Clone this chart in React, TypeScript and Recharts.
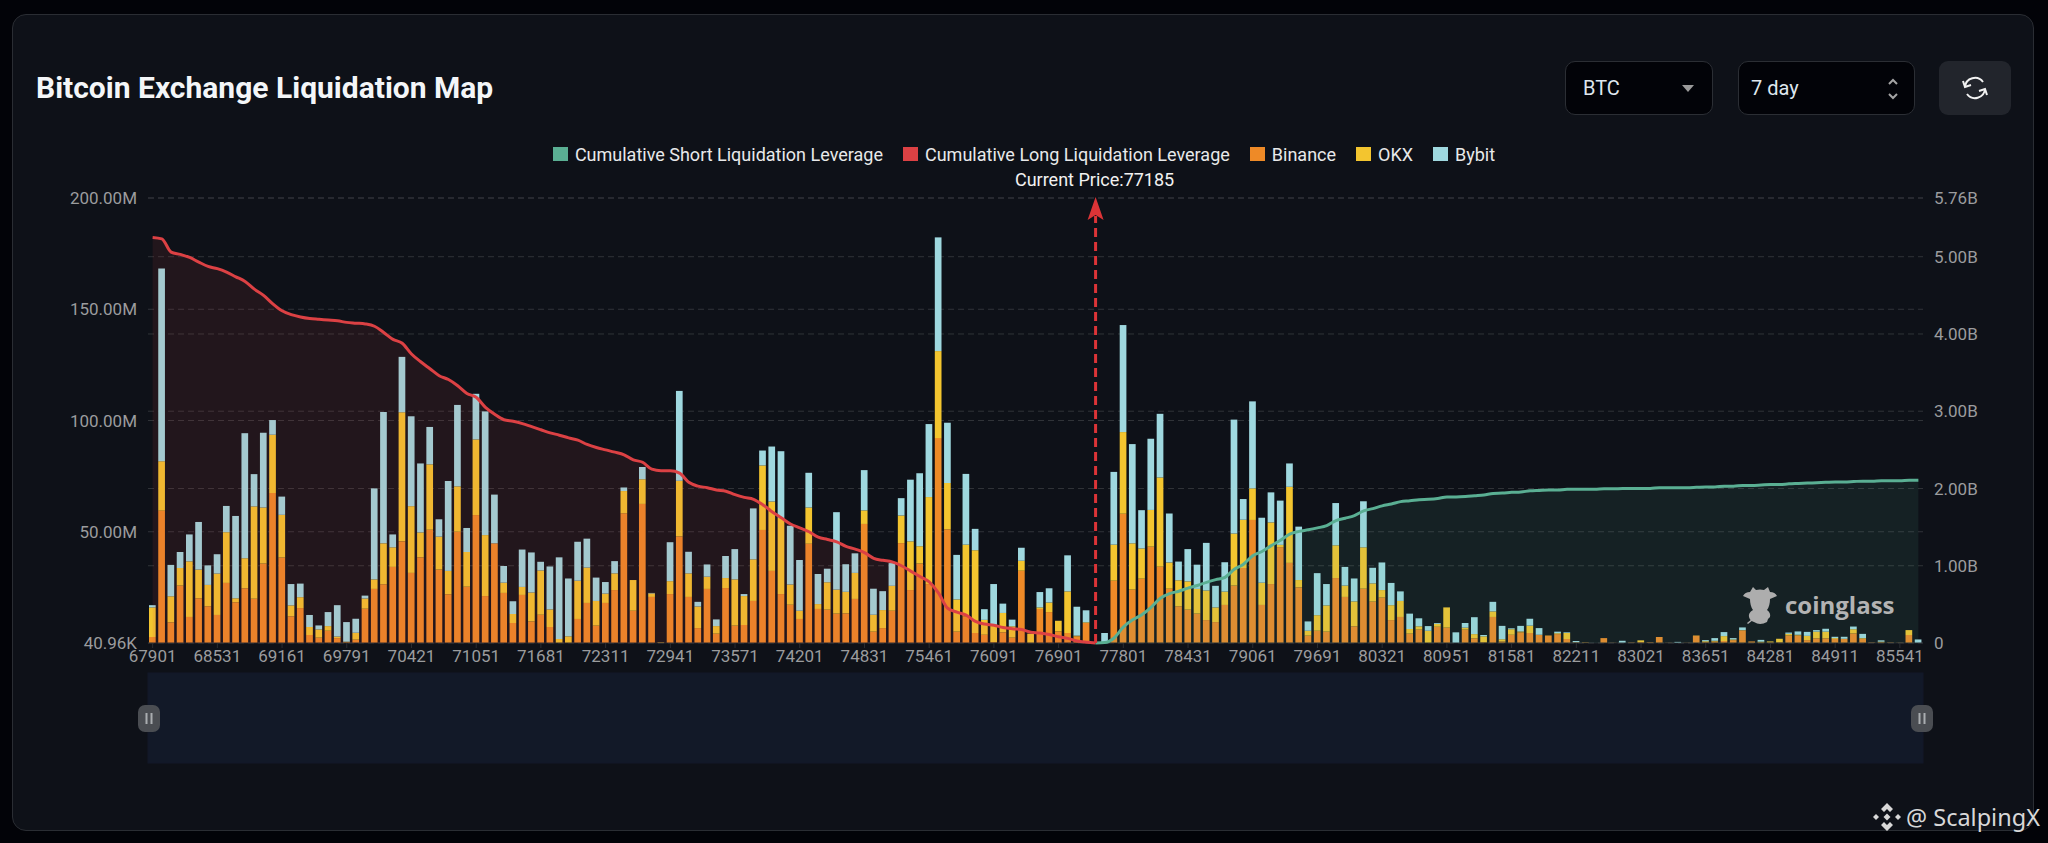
import {
  ComposedChart, Bar, Area, XAxis, YAxis, CartesianGrid, ReferenceLine, Legend, Brush,
} from 'recharts'

// one level per bar, the gaps in the price axis are in the source chart too
const priceLevels = [
  67901, 67991, 68081, 68171, 68261, 68351, 68441,
  68531, 68621, 68711, 68801, 68891, 68981, 69071,
  69161, 69251, 69341, 69431, 69521, 69611, 69701,
  69791, 69881, 69971, 70061, 70151, 70241, 70331,
  70421, 70511, 70601, 70691, 70781, 70871, 70961,
  71051, 71141, 71231, 71321, 71411, 71501, 71591,
  71681, 71771, 71861, 71951, 72041, 72131, 72221,
  72311, 72401, 72491, 72581, 72671, 72761, 72851,
  72941, 73031, 73121, 73211, 73301, 73391, 73481,
  73571, 73661, 73751, 73841, 73931, 74021, 74111,
  74201, 74291, 74381, 74471, 74561, 74651, 74741,
  74831, 74921, 75011, 75101, 75191, 75281, 75371,
  75461, 75551, 75641, 75731, 75821, 75911, 76001,
  76091, 76181, 76271, 76361, 76451, 76631, 76721,
  76901, 76991, 77081, 77171, 77185, 77261, 77441,
  77801, 77891, 77981, 78071, 78161, 78251, 78341,
  78431, 78521, 78611, 78701, 78791, 78881, 78971,
  79061, 79151, 79241, 79331, 79421, 79511, 79601,
  79691, 79781, 79871, 79961, 80051, 80141, 80231,
  80321, 80411, 80501, 80591, 80681, 80771, 80861,
  80951, 81041, 81131, 81221, 81311, 81401, 81491,
  81581, 81671, 81761, 81851, 81941, 82031, 82121,
  82211, 82301, 82391, 82481, 82661, 82751, 82931,
  83021, 83111, 83201, 83291, 83381, 83471, 83561,
  83651, 83741, 83831, 83921, 84011, 84101, 84191,
  84281, 84371, 84461, 84551, 84641, 84731, 84821,
  84911, 85001, 85091, 85181, 85271, 85361, 85451,
  85541, 85631, 85721,
]

const CURRENT_PRICE = 77185
const CURRENT_INDEX = 102

// millions of USD
const binance = [
  2.7, 59.5, 9.3, 25.8, 11.7, 20.1, 16.5, 12.6, 27, 18.3,
  24.6, 19.9, 35.7, 67.4, 38.4, 12, 15.7, 3.6, 2.4, 5.5,
  2.2, 0.3, 1.5, 15.4, 24.3, 26.4, 34.2, 45.7, 31.5, 38.5,
  50.9, 33, 21.9, 50, 25.3, 57.5, 21.1, 44.8, 22.5, 9,
  21.6, 9.7, 12.7, 7.2, 0, 0, 10.8, 18, 7.8, 18,
  23.8, 58.3, 14.5, 62.5, 20.7, 0, 22, 47.9, 20.7, 6.7,
  24.3, 4.2, 24.7, 7.8, 8.1, 18.9, 50.8, 32.4, 22, 17.2,
  10.8, 44.6, 15.3, 15, 13.2, 13.3, 19.8, 53.5, 5.1, 6.7,
  14.5, 44.9, 23.8, 35.7, 26.5, 92.1, 51.1, 5.1, 12, 4.5,
  3.7, 0.3, 4.8, 2.4, 32.5, 0, 15.3, 13.9, 5.2, 4.5,
  3, 9, 0, 0, 28, 58.1, 24, 28.9, 43.3, 34.3,
  24.4, 16.5, 15, 13.2, 10.3, 9.4, 17.1, 25.8, 33.7, 55.3,
  17.1, 26.5, 43.1, 36, 25, 3.3, 5.5, 5.1, 29.2, 20.7,
  7.5, 24.4, 18.6, 20.4, 10.3, 11.7, 4.2, 6, 0, 7.3,
  6.9, 0, 6, 2.1, 0.3, 11.7, 0.7, 3.7, 4.8, 4.5,
  3.7, 3.3, 4, 1.8, 0.3, 0.2, 0, 2.2, 0.1, 0,
  0.2, 0.4, 0.3, 2.7, 0.1, 0, 0.1, 3.3, 0.4, 0.7,
  0.9, 1.3, 5.7, 0.7, 0.2, 0.3, 0.3, 3.4, 3.4, 1.3,
  2.1, 2.1, 1.8, 1.8, 4.3, 1.9, 0.2, 0.3, 0.2, 0.1,
  3.6, 0,
]

const okx = [
  13.3, 22.2, 11.7, 7.9, 25, 12.9, 9.6, 18.6, 22.8, 1.8,
  13.5, 41.5, 25.2, 26.2, 19.2, 4.9, 4.9, 3.6, 3.7, 2.1,
  0.7, 0.3, 3.1, 4.6, 4.3, 18.4, 8.8, 58, 30, 11.2,
  29.4, 14.8, 10.5, 20.4, 15.6, 34, 27.4, 0, 4.6, 4,
  3.6, 13, 19.9, 7.9, 1.8, 3, 17.2, 15.9, 11.1, 4.2,
  7.5, 10, 13.8, 11.1, 1.6, 0.3, 5.8, 25, 10.6, 9.7,
  5.5, 3.4, 4.5, 20.8, 13, 18.7, 29, 31.2, 34.2, 9.1,
  3.7, 16.3, 2.2, 12.3, 10.8, 9.7, 11.7, 6.1, 7.6, 8.1,
  11.2, 12.4, 21.9, 7.8, 39.1, 39.1, 20.8, 14.5, 32.2, 37.2,
  6.7, 7.9, 8.7, 5.1, 4.5, 4.2, 0.7, 4.3, 4.8, 18.7,
  0.3, 0.3, 0, 0, 16.2, 36.7, 20.8, 13.6, 16.5, 40.1,
  11.8, 11.7, 12.7, 11.1, 13.3, 6.6, 6, 23.4, 21.7, 14.2,
  10, 27.7, 1, 34.2, 3.3, 2.2, 7, 11.8, 14.7, 5.1,
  11.2, 18.6, 8.2, 3.4, 6.7, 7.2, 2.1, 1.5, 5.5, 1.3,
  9.1, 0, 0.9, 1.9, 2.7, 2.5, 1, 2.5, 0.4, 3.3,
  0, 0.1, 0.4, 2.7, 0, 0.1, 0, 0, 0, 0,
  0, 0.8, 0, 0, 0, 0, 0, 0.1, 0.4, 0.3,
  2.2, 0.3, 0.1, 0, 0.4, 0.4, 1.6, 0.7, 0.3, 1.9,
  3, 3, 0.4, 0.1, 1.9, 0.3, 0, 0.3, 0, 0,
  2.2, 0,
]

const bybit = [
  1, 86.6, 14.1, 7.2, 12.1, 21.4, 8.8, 8.7, 11.8, 37,
  56.2, 14.5, 33.6, 6.6, 8.2, 9.6, 6.1, 5.4, 1.8, 6.3,
  14.1, 8.8, 6.3, 1.3, 40.9, 59, 5.8, 24.9, 40.4, 31,
  16.8, 7.8, 40.4, 36.6, 10.8, 20.5, 55.6, 21.9, 7.5, 5.8,
  16.8, 18, 3.9, 19.3, 36.7, 26, 17.5, 13, 10.5, 5.2,
  5.5, 1.6, 0, 5.5, 0.2, 0, 17.5, 40.4, 9.7, 2.1,
  5.5, 3, 9.9, 13.6, 0.9, 22.9, 6.7, 24.7, 30, 26.4,
  22.8, 15.6, 13.5, 6.1, 34.8, 12.4, 8.8, 18.1, 11.7, 8.5,
  10.2, 7.8, 27.7, 32.8, 32.8, 51.1, 27.1, 20, 31.8, 9.6,
  4.8, 18.3, 4.2, 3, 5.8, 0, 6.9, 6.4, 0, 16.2,
  13, 5.4, 0, 4.5, 32.7, 48.1, 44.6, 17.2, 32, 28.6,
  22, 8.4, 14.5, 10.9, 21.4, 9.7, 13.2, 51.2, 9.3, 39.1,
  29.2, 13.5, 19.9, 10.5, 24, 4.2, 18.9, 9.6, 19, 8.4,
  10.3, 20.7, 7, 12.4, 10, 4.3, 6.9, 3.6, 2.1, 0.4,
  0, 4.8, 2.1, 7.6, 0.6, 4.3, 6, 0.4, 2.5, 3.1,
  3, 0, 0.7, 0.3, 0.6, 0, 0, 0, 0, 1,
  0, 0, 0, 0, 0, 0.5, 0, 0, 0.5, 1.2,
  1.8, 0.6, 1.2, 0, 0.8, 0, 0, 0.6, 1.5, 1.8,
  0.7, 1.3, 0.6, 0.9, 1.2, 1.9, 0, 0.6, 0, 0,
  0, 1.6,
]

// billions of USD, from the lowest level up to the current price
const cumLong = [
  5.25, 5.23, 5.06, 5.03, 4.99, 4.93, 4.875, 4.845, 4.8, 4.74,
  4.68, 4.58, 4.5, 4.39, 4.3, 4.25, 4.22, 4.2, 4.19, 4.18,
  4.17, 4.15, 4.14, 4.13, 4.1, 4.02, 3.93, 3.88, 3.74, 3.64,
  3.55, 3.46, 3.41, 3.33, 3.23, 3.18, 3.05, 2.96, 2.89, 2.87,
  2.84, 2.8, 2.76, 2.72, 2.69, 2.655, 2.625, 2.57, 2.53, 2.5,
  2.47, 2.435, 2.37, 2.34, 2.25, 2.23, 2.23, 2.2, 2.08, 2.03,
  2.01, 1.98, 1.965, 1.92, 1.885, 1.86, 1.79, 1.7, 1.62, 1.54,
  1.49, 1.44, 1.37, 1.34, 1.31, 1.25, 1.215, 1.17, 1.095, 1.07,
  1.05, 1, 0.93, 0.86, 0.79, 0.65, 0.45, 0.4, 0.36, 0.28,
  0.245, 0.23, 0.2, 0.185, 0.175, 0.14, 0.13, 0.11, 0.08, 0.06,
  0.025, 0.01, 0,
]

// billions of USD, from the current price to the highest level
const cumShort = [
  0, 0.005, 0.065, 0.205, 0.3, 0.365, 0.46, 0.58, 0.64, 0.67,
  0.71, 0.745, 0.785, 0.82, 0.85, 0.955, 1.02, 1.13, 1.185, 1.26,
  1.33, 1.41, 1.445, 1.465, 1.49, 1.52, 1.585, 1.615, 1.65, 1.71,
  1.74, 1.775, 1.8, 1.83, 1.84, 1.855, 1.86, 1.87, 1.89, 1.89,
  1.895, 1.905, 1.915, 1.935, 1.94, 1.95, 1.955, 1.97, 1.975, 1.98,
  1.98, 1.99, 1.99, 1.99, 1.99, 1.995, 1.995, 2, 2, 2,
  2, 2.01, 2.01, 2.01, 2.01, 2.015, 2.02, 2.02, 2.03, 2.03,
  2.04, 2.04, 2.045, 2.05, 2.05, 2.06, 2.065, 2.07, 2.075, 2.08,
  2.085, 2.085, 2.09, 2.095, 2.095, 2.1, 2.1, 2.1, 2.105, 2.105,
]

const leftTicks = [0.04096, 50, 100, 150, 200]
const rightTicks = [0, 1, 2, 3, 4, 5, 5.76]

const COLORS = {
  short: '#5aaf93',
  long: '#dc4144',
  binance: '#ee8a27',
  okx: '#f3c52f',
  bybit: '#9fd8df',
}

const legendItems = [
  { label: 'Cumulative Short Liquidation Leverage', color: COLORS.short },
  { label: 'Cumulative Long Liquidation Leverage', color: COLORS.long },
  { label: 'Binance', color: COLORS.binance },
  { label: 'OKX', color: COLORS.okx },
  { label: 'Bybit', color: COLORS.bybit },
]

const chartData = priceLevels.map((price, i) => ({
  price,
  binance: binance[i],
  okx: okx[i],
  bybit: bybit[i],
  cumLong: i <= CURRENT_INDEX ? cumLong[i] : null,
  cumShort: i >= CURRENT_INDEX ? cumShort[i - CURRENT_INDEX] : null,
}))

const FONT = 'Roboto, sans-serif'
const AXIS_TICK = { fill: '#9b9c9e', fontSize: 17, fontFamily: FONT }
const BAR_WIDTH = 6.7
const AREA_Z = 500 // the areas sit over the bars and tint them

function LegendRow() {
  return (
    <div style={{ display: 'flex', justifyContent: 'center', alignItems: 'center', height: 24, gap: 20, fontFamily: FONT, fontSize: 18, color: '#e8e9ea' }}>
      {legendItems.map((item) => (
        <div key={item.label} style={{ display: 'flex', alignItems: 'center', gap: 7 }}>
          <span style={{ width: 15, height: 14, background: item.color, display: 'inline-block' }} />
          <span>{item.label}</span>
        </div>
      ))}
    </div>
  )
}

function CurrentPriceMark({ x1, y1, y2 }: any) {
  const x = x1
  const top = Math.min(y1, y2)
  const bottom = Math.max(y1, y2)
  return (
    <g>
      <line x1={x} x2={x} y1={bottom} y2={top + 18} stroke="#dc3437" strokeWidth={3} strokeDasharray="9 5" />
      <path d={`M${x} ${top - 1} L${x + 8} ${top + 22} L${x} ${top + 17} L${x - 8} ${top + 22} Z`} fill="#dc3437" />
      <text x={x - 1} y={top - 12} textAnchor="middle" fill="#f2f2f2" fontSize={18} fontFamily={FONT}>
        Current Price:{CURRENT_PRICE}
      </text>
    </g>
  )
}

function BrushHandle({ x, y, width, height }: any) {
  const cx = x + width / 2
  const cy = y + height / 2
  return (
    <g>
      <rect x={cx - 11} y={cy - 13} width={22} height={27} rx={7} fill="#4a4d52" />
      <rect x={cx - 3.5} y={cy - 5} width={2} height={11} fill="#a9adb0" />
      <rect x={cx + 1.5} y={cy - 5} width={2} height={11} fill="#a9adb0" />
    </g>
  )
}

function CoinglassMark() {
  return (
    <div style={{ position: 'absolute', left: 1742, top: 586, width: 160, height: 42, pointerEvents: 'none' }}>
      <svg width={36} height={40} viewBox="0 0 36 40" style={{ position: 'absolute', left: 0, top: 0 }}>
        <path
          d="M1 10 Q3 6 8 6 L11 1 L14 4 Q18 3 22 4 L26 1 L28 6 Q33 6 35 10 L28 13 Q28 20 25 24 Q29 27 28 31 Q25 33 25 36 Q18 40 12 36 Q8 35 7 31 Q6 27 11 24 Q8 20 8 13 Z"
          fill="#adadad"
        />
        <path d="M5 37 L10 33 L11 34 L6 38 Z" fill="#adadad" />
      </svg>
      <span style={{ position: 'absolute', left: 43, top: 1, fontFamily: '"Open Sans", sans-serif', fontWeight: 700, fontSize: 24, color: '#b3b3b3', lineHeight: '36px' }}>
        coinglass
      </span>
    </div>
  )
}

function Controls() {
  const box = {
    position: 'absolute' as const, top: 61, height: 54, boxSizing: 'border-box' as const,
    background: '#020308', border: '1px solid #2b2e34', borderRadius: 10,
    fontFamily: FONT, fontSize: 20, color: '#dfe7ee', lineHeight: '52px',
  }
  return (
    <>
      <div style={{ ...box, left: 1565, width: 148, paddingLeft: 17 }}>
        BTC
        <svg width={12} height={8} style={{ position: 'absolute', left: 116, top: 23 }}>
          <path d="M0 0 H12 L6 7 Z" fill="#9a9a9a" />
        </svg>
      </div>
      <div style={{ ...box, left: 1738, width: 177, paddingLeft: 12 }}>
        7 day
        <svg width={12} height={22} style={{ position: 'absolute', left: 148, top: 16 }} fill="none" stroke="#a4a4a4" strokeWidth={2}>
          <path d="M2 6 L6 2 L10 6" />
          <path d="M2 16 L6 20 L10 16" />
        </svg>
      </div>
      <div style={{ position: 'absolute', left: 1939, top: 61, width: 72, height: 54, background: '#22252c', borderRadius: 9 }}>
        <svg width={26} height={24} viewBox="0 0 26 24" style={{ position: 'absolute', left: 23, top: 15 }} fill="none" stroke="#f2f2f2" strokeWidth={2}>
          <path d="M3 11 A10 10 0 0 1 21 6" />
          <path d="M23 13 A10 10 0 0 1 5 18" />
          <path d="M1 5 L3 11 L9 9" />
          <path d="M25 19 L23 13 L17 15" />
        </svg>
      </div>
    </>
  )
}

function SourceTag() {
  return (
    <div style={{ position: 'absolute', left: 1873, top: 803, height: 28, pointerEvents: 'none' }}>
      <svg width={28} height={28} viewBox="0 0 28 28" style={{ position: 'absolute', left: 0, top: 0 }} fill="#d8d8d8">
        <path d="M14 0 L20 6 L17 9 L14 6 L11 9 L8 6 Z" />
        <path d="M14 28 L8 22 L11 19 L14 22 L17 19 L20 22 Z" />
        <path d="M0 14 L3 11 L6 14 L3 17 Z" />
        <path d="M28 14 L25 17 L22 14 L25 11 Z" />
        <path d="M14 10.5 L17.5 14 L14 17.5 L10.5 14 Z" />
      </svg>
      <span style={{ position: 'absolute', left: 33, top: -3, whiteSpace: 'nowrap', fontFamily: '"Noto Sans", sans-serif', fontSize: 23.5, color: '#d8d8d8', lineHeight: '34px' }}>
        @ ScalpingX
      </span>
    </div>
  )
}

export default function App() {
  return (
    <div style={{ position: 'absolute', left: 0, top: 0, width: 2048, height: 843, background: '#020308', overflow: 'hidden' }}>
      <div style={{ position: 'absolute', left: 12, top: 14, width: 2022, height: 817, boxSizing: 'border-box', background: '#0e1118', border: '1px solid #2a2d33', borderRadius: 14 }} />
      <div style={{ position: 'absolute', left: 36, top: 69, fontFamily: FONT, fontWeight: 700, fontSize: 30, color: '#f4f6f8', lineHeight: '38px' }}>
        Bitcoin Exchange Liquidation Map
      </div>
      <Controls />
      <div style={{ position: 'absolute', left: 0, top: 0 }}>
        <ComposedChart
          width={2048}
          height={843}
          data={chartData}
          margin={{ top: 174, right: 45, bottom: 80, left: 68 }}
        >
          <Legend content={LegendRow} verticalAlign="top" wrapperStyle={{ top: 142, left: 0, width: 2048 }} />
          <CartesianGrid yAxisId="left" vertical={false} stroke="#303338" strokeDasharray="6 4" />
          <CartesianGrid yAxisId="right" vertical={false} stroke="#303338" strokeDasharray="6 4" />
          <XAxis
            dataKey="price"
            interval={6}
            tick={AXIS_TICK}
            tickSize={5}
            tickMargin={2}
            height={30}
            axisLine={{ stroke: '#23262c' }}
            tickLine={{ stroke: '#2b2e33' }}
          />
          <YAxis
            yAxisId="left"
            width={80}
            domain={[0.04096, 200]}
            ticks={leftTicks}
            tickFormatter={(v: number) => (v < 1 ? '40.96K' : `${v.toFixed(2)}M`)}
            tick={AXIS_TICK}
            tickMargin={5}
            axisLine={false}
            tickLine={false}
          />
          <YAxis
            yAxisId="right"
            orientation="right"
            width={80}
            domain={[0, 5.76]}
            ticks={rightTicks}
            tickFormatter={(v: number) => (v === 0 ? '0' : `${v.toFixed(2)}B`)}
            tick={AXIS_TICK}
            tickMargin={5}
            axisLine={false}
            tickLine={false}
          />
          <Bar yAxisId="left" dataKey="binance" name="Binance" stackId="ex" barSize={BAR_WIDTH} fill={COLORS.binance} isAnimationActive={false} />
          <Bar yAxisId="left" dataKey="okx" name="OKX" stackId="ex" barSize={BAR_WIDTH} fill={COLORS.okx} isAnimationActive={false} />
          <Bar yAxisId="left" dataKey="bybit" name="Bybit" stackId="ex" barSize={BAR_WIDTH} fill={COLORS.bybit} isAnimationActive={false} />
          <Area
            yAxisId="right"
            dataKey="cumLong"
            name="Cumulative Long Liquidation Leverage"
            type="monotone"
            stroke={COLORS.long}
            strokeWidth={3}
            fill={COLORS.long}
            fillOpacity={0.1}
            dot={false}
            activeDot={false}
            isAnimationActive={false}
            zIndex={AREA_Z}
          />
          <Area
            yAxisId="right"
            dataKey="cumShort"
            name="Cumulative Short Liquidation Leverage"
            type="monotone"
            stroke={COLORS.short}
            strokeWidth={3}
            fill={COLORS.short}
            fillOpacity={0.1}
            dot={false}
            activeDot={false}
            isAnimationActive={false}
            zIndex={AREA_Z}
          />
          <ReferenceLine yAxisId="left" x={CURRENT_PRICE} shape={CurrentPriceMark} zIndex={AREA_Z + 100} />
          <Brush
            dataKey="price"
            y={673}
            height={90}
            stroke="#121929"
            fill="#121929"
            travellerWidth={2}
            traveller={BrushHandle}
            tickFormatter={() => ''}
          />
        </ComposedChart>
      </div>
      <CoinglassMark />
      <SourceTag />
    </div>
  )
}
